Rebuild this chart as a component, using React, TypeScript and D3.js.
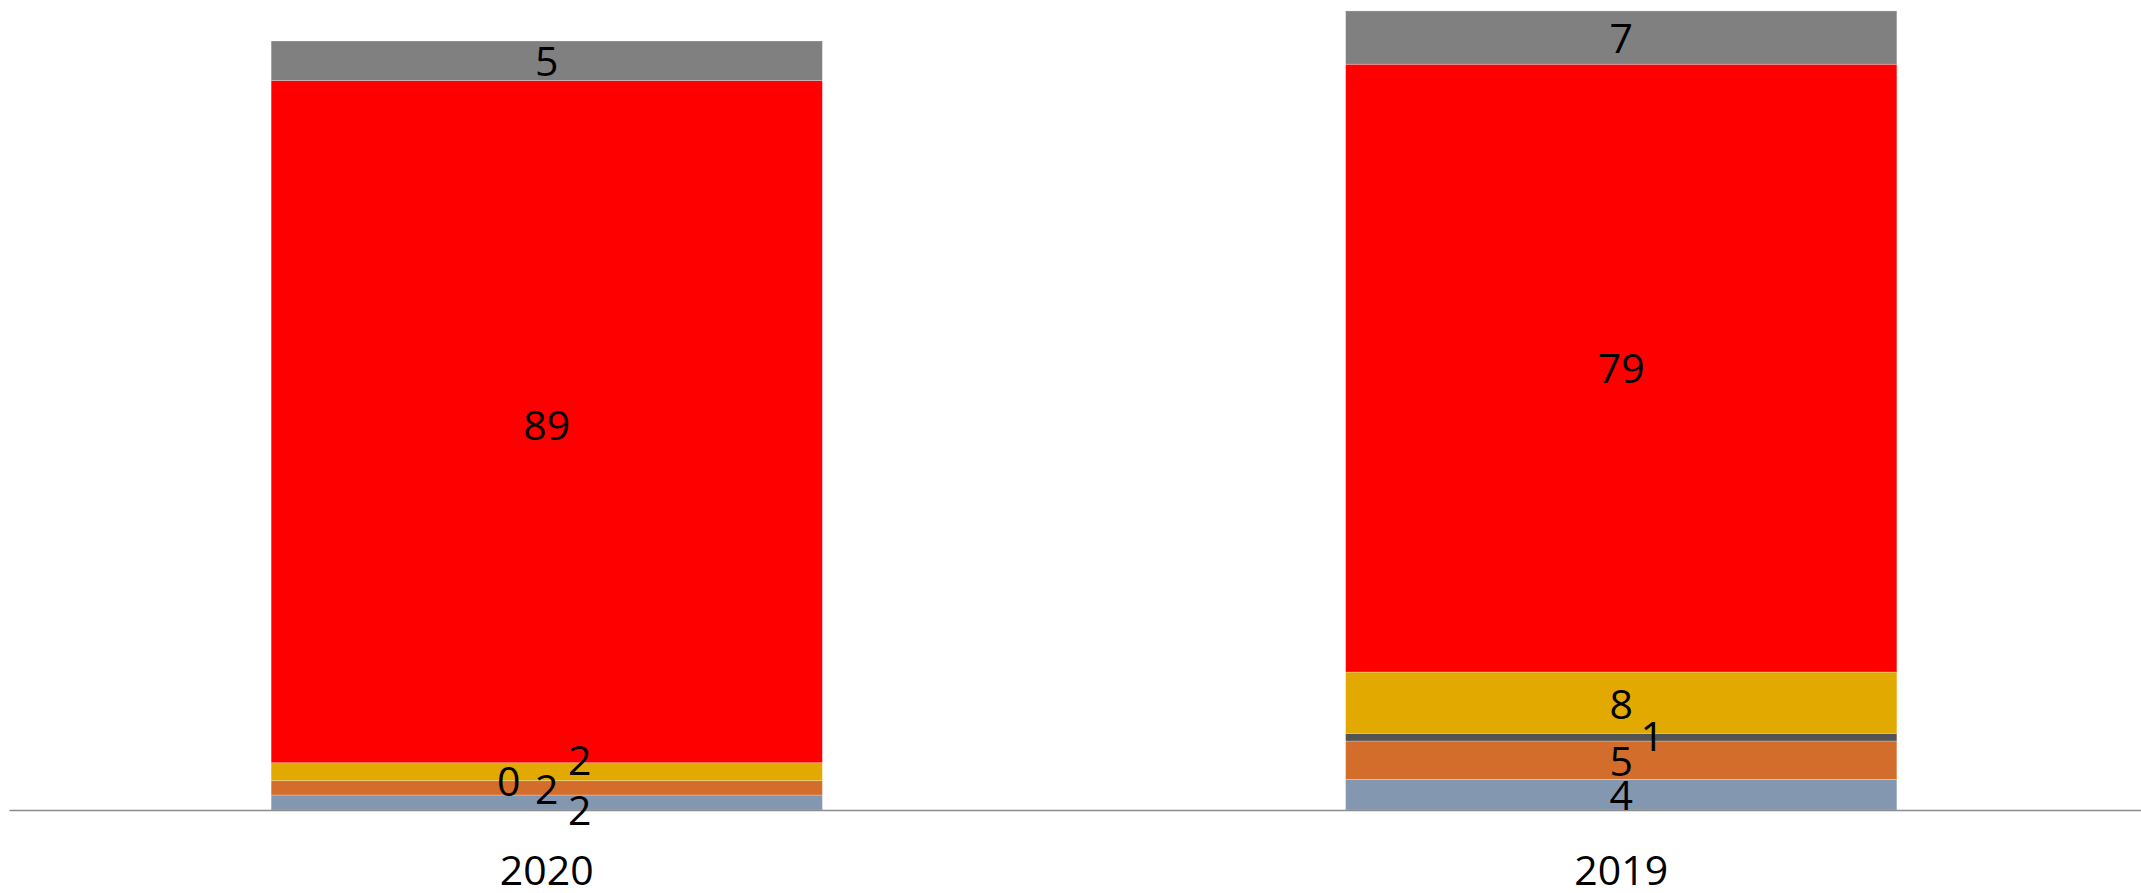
import React from "react";
import * as d3 from "d3";

const categories = ["2020", "2019"];
const seriesNames = ["Blue", "Orange", "DarkGray", "Yellow", "Red", "Gray"];
const blueValues = [1.95, 3.98];
const orangeValues = [1.86, 4.99];
const darkGrayValues = [0.0, 1.0];
const yellowValues = [2.34, 7.97];
const redValues = [88.7, 79.04];
const grayValues = [5.15, 6.93];

const seriesColors = ["#8497B0", "#D36D2B", "#545454", "#E2AA00", "#FF0000", "#808080"];

// Manual label nudges (Excel overlap avoidance), in pixels: [dx, dy] per series per category
const labelNudges: Record<string, [number, number][]> = {
  Blue: [[33, 7.5], [0, 1]],
  Orange: [[0, 2], [0, 1.5]],
  DarkGray: [[-38, 1], [31, -1]],
  Yellow: [[33, -11], [0, 1.5]],
  Red: [[0, 4], [0, 0]],
  Gray: [[0, 0.5], [0, 0.5]],
};

const W = 2141;
const H = 893;

export default function App() {
  const valuesBySeries = [blueValues, orangeValues, darkGrayValues, yellowValues, redValues, grayValues];
  const table = categories.map((c, i) => {
    const row: any = { cat: c };
    seriesNames.forEach((s, j) => (row[s] = valuesBySeries[j][i]));
    return row;
  });
  const stacked = d3.stack<any>().keys(seriesNames)(table);

  const x = d3.scaleBand<string>().domain(categories).range([9.5, 2158.5]).padding(0);
  const barW = x.bandwidth() * 0.513;
  const y = d3.scaleLinear().domain([0, 105]).range([810, 810 - 105 * 7.69]);
  const fontSize = 41;
  const fontFamily = "'Open Sans', 'Noto Sans', sans-serif";
  const digitHalf = fontSize * 0.357;

  return (
    <svg
      width={W}
      height={H}
      style={{ position: "absolute", left: 0, top: 0, background: "#fff" }}
      fontFamily={fontFamily}
    >
      <rect x={0} y={0} width={W} height={H} fill="#fff" />
      {stacked.map((layer, j) => (
        <g key={layer.key}>
          {layer.map((d, i) => {
            const cx = (x(categories[i]) as number) + x.bandwidth() / 2;
            return (
              <rect
                key={i}
                x={cx - barW / 2}
                y={y(d[1])}
                width={barW}
                height={Math.max(0, y(d[0]) - y(d[1]))}
                fill={seriesColors[j]}
                stroke="#ffffff"
                strokeOpacity={0.35}
                strokeWidth={0.75}
              />
            );
          })}
        </g>
      ))}
      <line x1={9.5} x2={W} y1={810.5} y2={810.5} stroke="#8c8c8c" strokeWidth={1.5} />
      {stacked.map((layer, j) => (
        <g key={"l" + layer.key}>
          {layer.map((d, i) => {
            const cx = (x(categories[i]) as number) + x.bandwidth() / 2;
            const cy = (y(d[0]) + y(d[1])) / 2;
            const [dx, dy] = labelNudges[layer.key][i];
            const v = d[1] - d[0];
            return (
              <text
                key={i}
                x={cx + dx}
                y={cy + dy + digitHalf}
                textAnchor="middle"
                fontSize={fontSize}
                fill="#000"
              >
                {d3.format(".0f")(v)}
              </text>
            );
          })}
        </g>
      ))}
      {categories.map((c) => (
        <text
          key={c}
          x={(x(c) as number) + x.bandwidth() / 2}
          y={870 + digitHalf}
          textAnchor="middle"
          fontSize={fontSize}
          fill="#000"
        >
          {c}
        </text>
      ))}
    </svg>
  );
}
